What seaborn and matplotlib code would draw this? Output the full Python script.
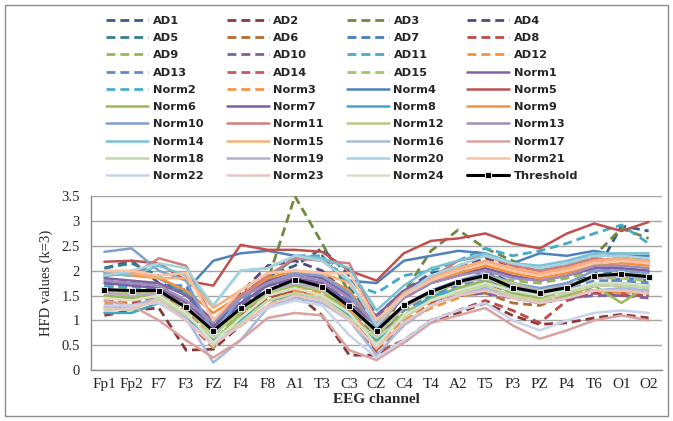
import numpy as np
import pandas as pd
import matplotlib
matplotlib.use("Agg")
import matplotlib.pyplot as plt
from matplotlib.patches import Rectangle
from matplotlib.ticker import FixedLocator, FuncFormatter
import seaborn as sns

sns.set_theme(style="white")
plt.rcParams['font.family'] = ['Liberation Serif', 'DejaVu Serif']

# EEG channels on the x axis
channels = ['Fp1', 'Fp2', 'F7', 'F3', 'FZ', 'F4', 'F8', 'A1', 'T3', 'C3', 'CZ',
            'C4', 'T4', 'A2', 'T5', 'P3', 'PZ', 'P4', 'T6', 'O1', 'O2']

# HFD values (k=3)
AD1 = [2.05, 2.2, 1.75, 1.6, 0.85, 1.5, 1.9, 2.1, 2.45, 1.9, 1.1, 1.6, 1.95, 2.05, 2.0, 1.75, 1.6, 1.75, 1.9, 2.9, 2.8]
AD2 = [1.1, 1.2, 1.25, 0.4, 0.42, 0.9, 1.25, 1.55, 1.1, 0.3, 0.3, 0.55, 1.0, 1.15, 1.35, 1.1, 0.92, 0.95, 1.05, 1.12, 1.05]
AD3 = [1.7, 1.7, 1.6, 1.15, 0.5, 1.05, 1.8, 3.5, 2.55, 1.55, 0.65, 1.55, 2.4, 2.82, 2.45, 2.2, 2.0, 2.1, 2.3, 2.85, 2.65]
AD4 = [1.8, 1.75, 1.7, 1.35, 0.95, 1.55, 2.1, 2.2, 2.0, 1.5, 1.0, 1.6, 1.9, 2.1, 2.25, 2.1, 2.0, 2.15, 2.3, 2.3, 2.25]
AD5 = [2.05, 2.15, 1.9, 1.5, 0.9, 1.45, 1.85, 2.25, 2.3, 1.65, 1.0, 1.45, 1.75, 2.0, 1.95, 1.7, 1.55, 1.7, 1.9, 2.0, 1.95]
AD6 = [1.4, 1.35, 1.55, 1.2, 0.6, 0.95, 1.5, 1.55, 1.5, 1.2, 0.4, 0.9, 1.3, 1.5, 1.55, 1.35, 1.3, 1.5, 1.55, 1.55, 1.5]
AD7 = [1.75, 1.7, 1.65, 1.6, 0.85, 1.3, 1.7, 1.8, 1.7, 1.4, 0.7, 1.2, 1.5, 1.6, 1.7, 1.5, 1.35, 1.45, 1.7, 1.85, 1.8]
AD8 = [1.3, 1.35, 1.5, 1.0, 0.45, 1.0, 1.45, 1.6, 1.55, 1.0, 0.35, 0.6, 1.0, 1.2, 1.4, 1.2, 0.95, 1.4, 1.55, 1.5, 1.5]
AD9 = [1.55, 1.5, 1.6, 1.3, 0.55, 1.2, 1.6, 1.7, 1.6, 1.2, 0.6, 1.2, 1.5, 1.7, 1.85, 1.8, 1.75, 1.85, 2.0, 2.05, 2.0]
AD10 = [1.6, 1.55, 1.5, 1.1, 0.9, 1.3, 1.6, 1.7, 1.6, 1.2, 0.7, 1.1, 1.4, 1.5, 1.55, 1.45, 1.35, 1.45, 1.5, 1.5, 1.45]
AD11 = [1.9, 2.0, 1.85, 1.55, 0.75, 1.4, 1.8, 2.3, 2.3, 1.75, 1.55, 1.9, 2.0, 2.2, 2.45, 2.3, 2.4, 2.55, 2.75, 2.92, 2.55]
AD12 = [1.35, 1.4, 1.5, 1.1, 0.55, 0.9, 1.3, 1.6, 1.5, 1.1, 0.45, 0.95, 1.25, 1.45, 1.65, 1.45, 1.4, 1.5, 1.6, 1.55, 1.6]
AD13 = [1.65, 1.75, 1.7, 1.7, 0.75, 1.35, 1.75, 1.9, 1.8, 1.35, 0.75, 1.2, 1.5, 1.7, 1.8, 1.6, 1.5, 1.6, 1.8, 1.8, 1.75]
AD14 = [1.25, 1.3, 1.45, 1.1, 0.5, 1.1, 1.55, 1.7, 1.6, 1.15, 0.5, 0.95, 1.35, 1.6, 1.75, 1.5, 1.45, 1.55, 1.7, 1.7, 1.65]
AD15 = [1.45, 1.5, 1.5, 1.2, 0.45, 1.15, 1.6, 1.75, 1.65, 1.25, 0.55, 1.15, 1.45, 1.65, 1.8, 1.65, 1.6, 1.7, 1.85, 1.85, 1.8]
Norm1 = [1.85, 1.8, 1.75, 1.5, 1.0, 1.5, 1.8, 1.95, 1.85, 1.5, 1.1, 1.6, 1.9, 2.05, 2.15, 2.0, 1.95, 2.05, 2.2, 2.25, 2.2]
Norm2 = [1.7, 1.65, 1.7, 1.4, 0.65, 1.35, 1.7, 1.8, 1.7, 1.3, 0.8, 1.3, 1.55, 1.75, 1.9, 1.7, 1.6, 1.7, 1.85, 1.9, 1.85]
Norm3 = [1.5, 1.45, 1.6, 1.3, 0.55, 1.0, 1.5, 1.65, 1.55, 1.25, 0.5, 1.0, 1.4, 1.6, 1.7, 1.5, 1.45, 1.55, 1.6, 1.6, 1.55]
Norm4 = [1.9, 1.95, 1.85, 1.6, 2.2, 2.35, 2.4, 2.3, 2.2, 1.8, 1.75, 2.2, 2.3, 2.4, 2.35, 2.15, 2.35, 2.3, 2.4, 2.3, 2.3]
Norm5 = [2.18, 2.2, 2.15, 1.8, 1.7, 2.52, 2.42, 2.42, 2.38, 2.0, 1.8, 2.35, 2.6, 2.65, 2.75, 2.55, 2.45, 2.75, 2.95, 2.8, 2.98]
Norm6 = [1.5, 1.45, 1.55, 1.1, 0.55, 1.15, 1.55, 1.7, 1.6, 1.15, 0.5, 1.1, 1.45, 1.65, 1.8, 1.55, 1.45, 1.5, 1.7, 1.35, 1.7]
Norm7 = [1.75, 1.7, 1.65, 1.35, 0.85, 1.35, 1.7, 1.85, 1.75, 1.35, 0.9, 1.45, 1.75, 1.9, 2.05, 1.9, 1.8, 1.9, 2.05, 2.05, 2.0]
Norm8 = [1.15, 1.15, 1.35, 1.05, 0.6, 1.0, 1.4, 1.5, 1.45, 1.1, 0.6, 1.05, 1.5, 1.6, 1.75, 1.6, 1.5, 1.6, 1.75, 1.75, 1.7]
Norm9 = [1.95, 1.9, 1.85, 1.6, 1.15, 1.5, 1.85, 2.0, 1.9, 1.6, 0.85, 1.5, 1.8, 1.95, 2.1, 1.95, 1.85, 1.95, 2.1, 2.15, 2.1]
Norm10 = [2.38, 2.45, 2.0, 1.8, 0.75, 1.45, 1.75, 1.95, 1.9, 1.55, 0.85, 1.3, 1.6, 1.8, 1.95, 1.75, 1.65, 1.75, 2.0, 2.0, 1.95]
Norm11 = [1.95, 1.9, 2.25, 2.1, 1.0, 1.5, 1.9, 2.25, 2.2, 2.15, 1.0, 1.5, 1.85, 2.2, 2.3, 2.1, 2.0, 2.1, 2.25, 2.2, 2.15]
Norm12 = [1.6, 1.55, 1.6, 1.25, 0.7, 1.2, 1.55, 1.75, 1.6, 1.3, 0.7, 1.25, 1.55, 1.75, 1.9, 1.75, 1.6, 1.7, 1.9, 1.95, 1.9]
Norm13 = [1.8, 1.75, 1.7, 1.4, 0.95, 1.45, 1.75, 1.9, 1.8, 1.45, 0.95, 1.45, 1.75, 1.9, 2.0, 1.85, 1.8, 1.9, 2.1, 2.1, 2.05]
Norm14 = [1.95, 1.9, 2.1, 1.9, 1.3, 2.0, 2.05, 2.3, 2.25, 2.05, 1.2, 1.7, 2.05, 2.2, 2.35, 2.15, 2.1, 2.2, 2.35, 2.35, 2.35]
Norm15 = [2.0, 1.95, 1.85, 1.85, 1.25, 1.6, 1.95, 2.0, 1.95, 1.75, 1.0, 1.55, 1.85, 2.05, 2.2, 2.05, 1.95, 2.05, 2.2, 2.25, 2.2]
Norm16 = [1.25, 1.3, 1.45, 1.05, 0.15, 0.6, 1.25, 1.45, 1.35, 1.0, 0.3, 0.9, 1.3, 1.5, 1.65, 1.45, 1.35, 1.45, 1.6, 1.65, 1.6]
Norm17 = [1.4, 1.3, 1.0, 0.6, 0.25, 0.6, 1.05, 1.15, 1.1, 0.4, 0.2, 0.55, 0.95, 1.1, 1.25, 0.9, 0.63, 0.8, 1.0, 1.1, 1.0]
Norm18 = [1.25, 1.2, 1.45, 1.1, 0.65, 0.95, 1.4, 1.55, 1.45, 1.05, 0.65, 1.05, 1.4, 1.55, 1.7, 1.5, 1.4, 1.55, 1.7, 1.7, 1.65]
Norm19 = [1.55, 1.5, 1.55, 1.3, 0.8, 1.25, 1.6, 1.75, 1.65, 1.3, 0.8, 1.25, 1.6, 1.75, 1.85, 1.7, 1.6, 1.7, 1.85, 1.9, 1.85]
Norm20 = [1.9, 2.0, 2.15, 2.05, 1.3, 2.0, 2.05, 2.3, 2.2, 1.8, 0.9, 1.5, 1.9, 2.1, 2.3, 2.15, 2.05, 2.15, 2.3, 2.3, 2.25]
Norm21 = [2.0, 2.0, 1.9, 1.95, 1.0, 1.6, 1.95, 2.0, 1.95, 1.95, 1.0, 1.5, 1.8, 2.0, 2.15, 2.0, 1.9, 2.0, 2.15, 2.2, 2.15]
Norm22 = [1.3, 1.3, 1.35, 1.0, 0.55, 0.9, 1.25, 1.4, 1.3, 0.7, 0.25, 0.6, 1.0, 1.2, 1.35, 1.0, 0.8, 1.0, 1.15, 1.2, 1.15]
Norm23 = [1.2, 1.25, 1.4, 1.0, 0.5, 0.9, 1.3, 1.5, 1.4, 1.0, 0.45, 0.95, 1.3, 1.5, 1.6, 1.45, 1.35, 1.45, 1.6, 1.6, 1.55]
Norm24 = [1.45, 1.4, 1.5, 1.15, 0.55, 1.05, 1.5, 1.65, 1.5, 1.15, 0.5, 1.1, 1.4, 1.6, 1.75, 1.6, 1.5, 1.6, 1.75, 1.75, 1.7]
Threshold = [1.62, 1.60, 1.60, 1.26, 0.79, 1.24, 1.60, 1.82, 1.68, 1.28, 0.79, 1.30, 1.58, 1.78, 1.90, 1.66, 1.56, 1.66, 1.90, 1.93, 1.88]

series = {
    'AD1': AD1, 'AD2': AD2, 'AD3': AD3, 'AD4': AD4, 'AD5': AD5, 'AD6': AD6,
    'AD7': AD7, 'AD8': AD8, 'AD9': AD9, 'AD10': AD10, 'AD11': AD11, 'AD12': AD12,
    'AD13': AD13, 'AD14': AD14, 'AD15': AD15,
    'Norm1': Norm1, 'Norm2': Norm2, 'Norm3': Norm3, 'Norm4': Norm4, 'Norm5': Norm5,
    'Norm6': Norm6, 'Norm7': Norm7, 'Norm8': Norm8, 'Norm9': Norm9, 'Norm10': Norm10,
    'Norm11': Norm11, 'Norm12': Norm12, 'Norm13': Norm13, 'Norm14': Norm14,
    'Norm15': Norm15, 'Norm16': Norm16, 'Norm17': Norm17, 'Norm18': Norm18,
    'Norm19': Norm19, 'Norm20': Norm20, 'Norm21': Norm21, 'Norm22': Norm22,
    'Norm23': Norm23, 'Norm24': Norm24,
}

# Excel 2007 style colour cycle (dark, normal, light variants)
colors = {
    'AD1': '#385D8A', 'AD2': '#8C3836', 'AD3': '#71893F', 'AD4': '#5C4776',
    'AD5': '#357D91', 'AD6': '#B66D31', 'AD7': '#4A7EBB', 'AD8': '#BE4B48',
    'AD9': '#98B954', 'AD10': '#7D60A0', 'AD11': '#46AAC5', 'AD12': '#F69240',
    'AD13': '#5C8CC8', 'AD14': '#C65A57', 'AD15': '#A6C46B',
    'Norm1': '#8064A2', 'Norm2': '#4BACC6', 'Norm3': '#F79646', 'Norm4': '#4F81BD',
    'Norm5': '#C0504D', 'Norm6': '#9BBB59', 'Norm7': '#7F5FA6', 'Norm8': '#3FA8C8',
    'Norm9': '#F7903A', 'Norm10': '#7E9FD1', 'Norm11': '#D07F7D', 'Norm12': '#B4CC84',
    'Norm13': '#A08DB9', 'Norm14': '#79C1D5', 'Norm15': '#F9AE78', 'Norm16': '#A7B9DC',
    'Norm17': '#DAA2A0', 'Norm18': '#C4D7A4', 'Norm19': '#B9ACCB', 'Norm20': '#A7D3E0',
    'Norm21': '#FAC3A1', 'Norm22': '#C9D3EA', 'Norm23': '#E8C5C4', 'Norm24': '#D7E3C8',
}
dashed = [k for k in series if k.startswith('AD')] + ['Norm2', 'Norm3']

fig = plt.figure(figsize=(6.73, 4.21), dpi=100)
ax = fig.add_axes([0.135, 0.121, 0.849, 0.413])
fig.patches.append(Rectangle((0.008, 0.012), 0.984, 0.975, transform=fig.transFigure,
                             fill=False, edgecolor='#8c8c8c', lw=1.0))

x = np.arange(len(channels))
for name, vals in series.items():
    if name in dashed:
        sns.lineplot(x=x, y=vals, ax=ax, color=colors[name], lw=2.0, label=name,
                     dashes=False, linestyle=(0, (3.2, 1.8)))
    else:
        sns.lineplot(x=x, y=vals, ax=ax, color=colors[name], lw=1.8, label=name)

sns.lineplot(x=x, y=Threshold, ax=ax, color='black', lw=2.2, marker='s', markersize=5,
             markerfacecolor='black', markeredgecolor='#e0e0e0', markeredgewidth=0.8,
             label='Threshold')

ax.set_xlim(-0.5, len(channels) - 0.5)
ax.set_ylim(0, 3.5)
ax.set_xticks(x)
ax.set_xticklabels(channels, fontsize=11)
ax.xaxis.set_minor_locator(FixedLocator(np.arange(-0.5, len(channels), 1.0)))
ax.tick_params(axis='x', which='major', length=0, pad=6)
ax.tick_params(axis='x', which='minor', length=4, color='#8c8c8c', width=1, direction='out')
ax.set_yticks(np.arange(0, 3.51, 0.5))
ax.yaxis.set_major_formatter(FuncFormatter(lambda v, p: f'{v:g}'))
ax.tick_params(axis='y', labelsize=10.5, length=0, pad=8)
ax.grid(axis='y', color='#a6a6a6', lw=1.0)
ax.set_axisbelow(True)
for s in ['top', 'right']:
    ax.spines[s].set_visible(False)
for s in ['left', 'bottom']:
    ax.spines[s].set_color('#8c8c8c')
    ax.spines[s].set_linewidth(1.0)

ax.set_xlabel('EEG channel', fontsize=11, fontweight='bold', labelpad=1)
ax.set_ylabel('HFD values (k=3)', fontsize=10.5, labelpad=6)

# legend is filled row by row (4 per row), matplotlib fills by column
handles, labels = ax.get_legend_handles_labels()
if ax.legend_:
    ax.legend_.remove()
ncol = 4
order = [i for j in range(ncol) for i in range(j, len(handles), ncol)]
fig.legend([handles[i] for i in order], [labels[i] for i in order], ncol=ncol,
           loc='upper left', bbox_to_anchor=(0.158, 0.962),
           frameon=False, prop={'family': 'DejaVu Sans', 'weight': 'bold', 'size': 8.2},
           handlelength=3.7, handletextpad=0.4, columnspacing=2.0, labelspacing=0.635,
           borderaxespad=0, borderpad=0)

fig.savefig('out.png', dpi=100)
